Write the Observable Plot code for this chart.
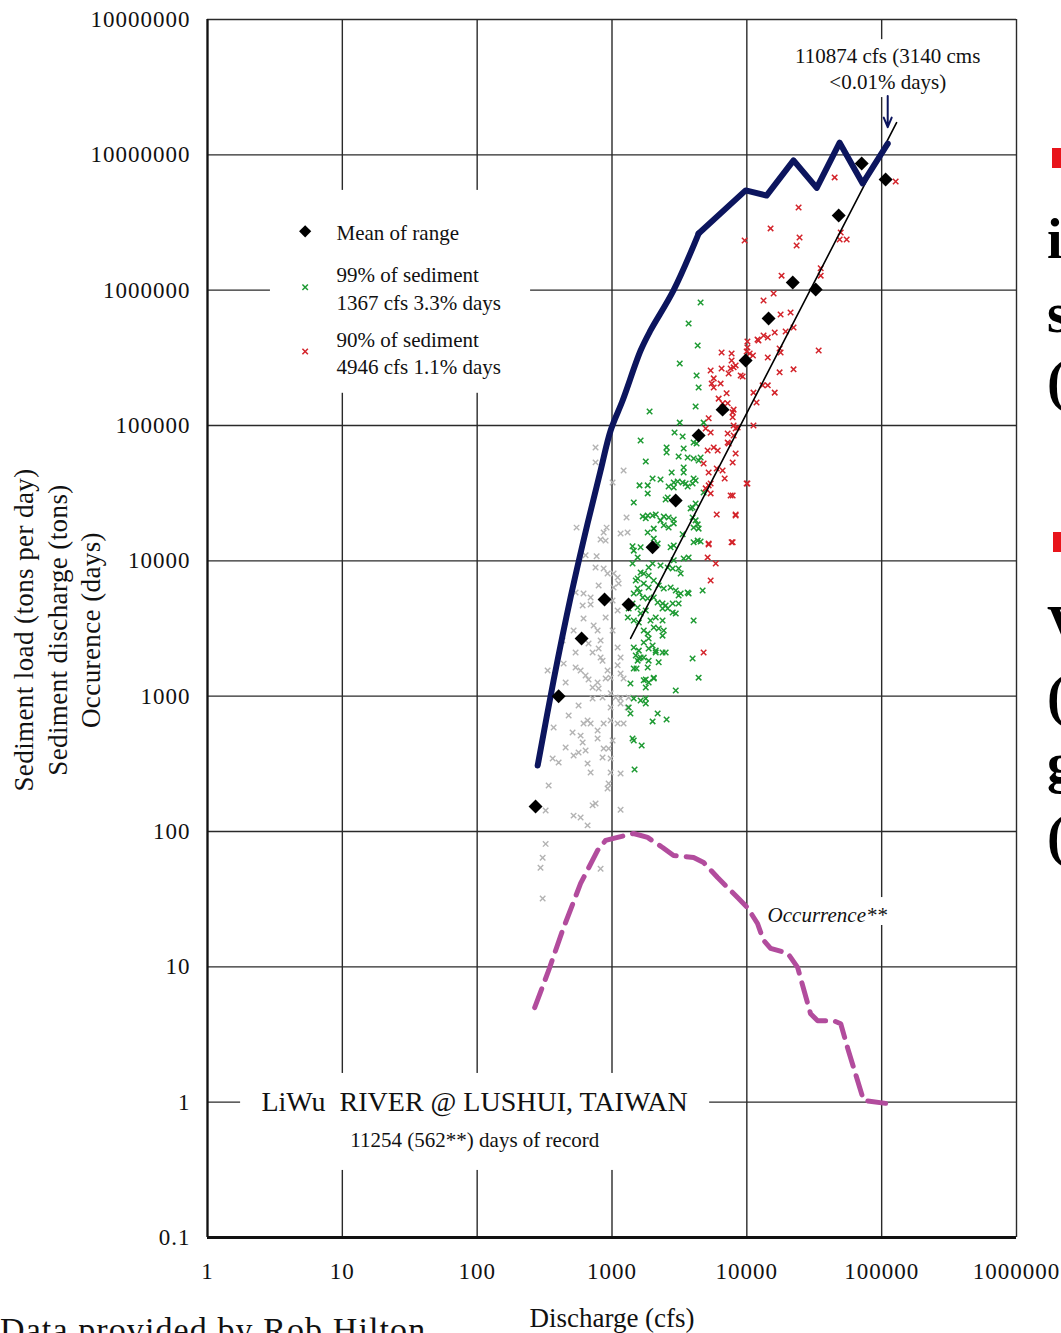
<!DOCTYPE html>
<html><head><meta charset="utf-8">
<script src="https://cdn.jsdelivr.net/npm/d3@7"></script>
<script src="https://cdn.jsdelivr.net/npm/@observablehq/plot@0.6"></script>
<style>
html,body{margin:0;padding:0;background:#fff;}
#wrap{position:relative;width:1061px;height:1333px;overflow:hidden;font-family:"Liberation Serif","Times New Roman",serif;color:#111;}
#chart svg{display:block;}
.side{position:absolute;left:1047px;font-weight:bold;font-size:56px;line-height:56px;color:#000;white-space:pre;}
.bullet{position:absolute;width:20px;height:20px;background:#e8141b;}
#credit{position:absolute;left:0;top:1313px;font-size:34px;line-height:34px;letter-spacing:1.1px;white-space:nowrap;}
#ylab{position:absolute;left:58px;top:630px;transform:translate(-50%,-50%) rotate(-90deg);font-size:27px;line-height:33.5px;letter-spacing:0.4px;text-align:center;white-space:pre;}
g[aria-label="y-axis tick label"] text, g[aria-label="x-axis tick label"] text{letter-spacing:1px;}
</style></head>
<body>
<div id="wrap">
  <div id="chart"></div>
  <div id="ylab"></div>
  <div class="bullet" style="left:1052px;top:148px"></div>
  <div class="side" style="top:211px">i</div>
  <div class="side" style="top:285px">s</div>
  <div class="side" style="top:353px">(</div>
  <div class="bullet" style="left:1053px;top:532px"></div>
  <div class="side" style="top:598px">V</div>
  <div class="side" style="top:668px">(</div>
  <div class="side" style="top:735px">g</div>
  <div class="side" style="top:808px">(</div>
  <div id="credit">Data provided by Rob Hilton</div>
</div>
<script>
// ---------- axis ticks ----------
const xTicks = [1, 10, 100, 1000, 10000, 100000, 1000000];
const xTickLabels = ["1", "10", "100", "1000", "10000", "100000", "1000000"];
const yTicks = [0.1, 1, 10, 100, 1000, 10000, 100000, 1000000, 10000000, 100000000];
const yTickLabels = ["0.1", "1", "10", "100", "1000", "10000", "100000", "1000000", "10000000", "10000000"];

// ---------- series ----------
// Mean of range (discharge cfs, sediment load tons/day)
const meanOfRange = [
  [271, 153], [402, 1000], [595, 2670], [881, 5180], [1327, 4760], [2000, 12600],
  [2966, 27900], [4390, 84400], [6610, 131000], [9800, 302000], [14500, 618000],
  [21900, 1140000], [32400, 1010000], [48000, 3560000], [71100, 8630000], [107000, 6580000]
];
// Sediment discharge curve (cumulative, tons)
const sedimentDischarge = [
  [281, 307], [369, 1310], [493, 5360], [659, 18900], [823, 46500], [977, 91900], [1199, 153000],
  [1630, 358000], [1930, 504000], [2865, 1000000], [4390, 2620000], [9800, 5460000],
  [14000, 5000000], [22200, 9100000], [33000, 5700000], [48800, 12300000], [72300, 6150000],
  [110900, 12100000]
];
// Rating fit line
const fitLine = [[1374, 2670], [129000, 17300000]];
// Occurrence (days)
const occurrence = [
  [267, 5.0], [339, 9.4], [430, 18.6], [585, 41.3], [782, 72.5], [897, 85.9], [1100, 90.4],
  [1446, 96.7], [1836, 90.4], [2373, 76.2], [2862, 66.5], [4030, 64.3], [4780, 59.0],
  [6070, 45.7], [8540, 32.5], [10100, 27.4], [12000, 20.9], [13300, 15.7], [15000, 13.7],
  [20100, 12.6], [23800, 9.9], [29700, 4.5], [33500, 4.0], [44000, 4.0], [49700, 3.8],
  [56000, 2.5], [73500, 1.03], [107000, 0.98]
];
// Daily values below the 99% threshold
const grayPoints = [
  [755, 68900], [755, 53400], [1219, 46500], [1010, 37900], [1282, 20900], [912, 17600], [867, 16200],
  [823, 14400], [897, 14100], [1158, 15900], [1305, 16200], [546, 17600], [769, 10800], [637, 11000],
  [755, 8930], [867, 8780], [927, 8060], [1028, 8060], [1101, 7540], [796, 6580], [694, 5360],
  [615, 5740], [537, 5840], [606, 4680], [694, 4760], [615, 3750], [897, 3810], [1101, 4300],
  [1028, 6360], [1120, 6810], [731, 3330], [782, 3060], [823, 2580], [796, 2250], [519, 3060],
  [430, 2580], [537, 2100], [438, 1740], [670, 2450], [718, 2100], [823, 1930], [851, 1830],
  [927, 1550], [977, 1370], [897, 1350], [1101, 2290], [1158, 1930], [1101, 1690], [1158, 1470],
  [1219, 1350], [537, 1630], [585, 1550], [637, 1420], [670, 1330], [718, 1160], [796, 1140],
  [782, 1260], [333, 1550], [453, 1260], [718, 961], [851, 978], [977, 1050], [1064, 978],
  [1158, 961], [1327, 978], [565, 853], [477, 719], [694, 628], [615, 628], [659, 661], [867, 628],
  [977, 825], [1101, 628], [1219, 628], [1158, 883], [1305, 825], [369, 587], [510, 539], [585, 511],
  [606, 455], [565, 384], [637, 397], [782, 557], [782, 486], [867, 411], [944, 411], [453, 418],
  [363, 346], [402, 324], [519, 365], [659, 318], [851, 352], [694, 273], [977, 346], [1158, 268],
  [977, 273], [944, 226], [927, 208], [339, 219], [755, 161], [718, 156], [519, 131], [585, 127],
  [659, 111], [1158, 145], [322, 143], [322, 81], [306, 64], [295, 54], [823, 53], [306, 32],
  [1010, 5090], [1010, 3060], [977, 661], [1010, 470]
];
// 99% of sediment (1367 cfs, 3.3% days)
const green99Points = [
  [4540, 811000], [3700, 567000], [4320, 390000], [3180, 287000], [4240, 234000], [4390, 191000],
  [4170, 138000], [1900, 127000], [3180, 105000], [4780, 105000], [2910, 88700], [3340, 82900],
  [4030, 74900], [4240, 73600], [1630, 77500], [2540, 68900], [2540, 63200], [3400, 67700],
  [1780, 54200], [3120, 59000], [3640, 58000], [4030, 57100], [4390, 55100], [4540, 58000],
  [3400, 49000], [3400, 45000], [2770, 45000], [2000, 40600], [2290, 39900], [1840, 36100],
  [1600, 36100], [2870, 37900], [3070, 38600], [3340, 37900], [3520, 37300], [3960, 37300],
  [2630, 35400], [2870, 34800], [3640, 35400], [1840, 31500], [4780, 32000], [4170, 39200],
  [4030, 40600], [2590, 29400], [2500, 28400], [1450, 27000], [4170, 26500], [3960, 24800],
  [3830, 24400], [1690, 21300], [1840, 21600], [2000, 21600], [2110, 22000], [1780, 20600],
  [2420, 21300], [2630, 20900], [2870, 20200], [2290, 19900], [2420, 18300], [2630, 17600],
  [2870, 18900], [4170, 19900], [4320, 18600], [4390, 17300], [3960, 20900], [4030, 17600],
  [2040, 17300], [1840, 16200], [3340, 15700], [2040, 14600], [2180, 13400], [4320, 14100],
  [4540, 13900], [4030, 13700], [1420, 12800], [1450, 11900], [1630, 12600], [2720, 12600],
  [2870, 13000], [1550, 10600], [2870, 10100], [1420, 9550], [1630, 8200], [1720, 8060],
  [1870, 7800], [1550, 7410], [1500, 7160], [1720, 6810], [1870, 8930], [2000, 9550], [2290, 9240],
  [2590, 8930], [2820, 8780], [3120, 8780], [3230, 8060], [3400, 10400], [3700, 10600],
  [2040, 7160], [2220, 6580], [2420, 6250], [2720, 6360], [2970, 6040], [3230, 5740], [3120, 5540],
  [3700, 5740], [1550, 6250], [1600, 5840], [1450, 5740], [1690, 5360], [1840, 5270], [1870, 6360],
  [2040, 5360], [2180, 4920], [2370, 4840], [2500, 4680], [2820, 4840], [3120, 4840], [2370, 4440],
  [2590, 4440], [2820, 4150], [2970, 4080], [1420, 4840], [1330, 4440], [1550, 4520], [1630, 4080],
  [1780, 4300], [1310, 3810], [1450, 3620], [1580, 3500], [1930, 3620], [2110, 3810], [2370, 3620],
  [2040, 3220], [2220, 3160], [2420, 3060], [2370, 2800], [1720, 3060], [1840, 2900], [1870, 2670],
  [1720, 2490], [1450, 2290], [1580, 2170], [1500, 2000], [1630, 1930], [1550, 1830], [1870, 2250],
  [2000, 2370], [2110, 2170], [2220, 1780], [2370, 2100], [1840, 1630], [2040, 1370], [1720, 1310],
  [1870, 1260], [1450, 1600], [2970, 1100], [4390, 1370], [3960, 1900], [4030, 3620], [4700, 6040],
  [3640, 5840], [1580, 1900], [1720, 1930], [1870, 1830], [2500, 2100], [2110, 2100], [1520, 1600],
  [1370, 1240], [1780, 1330], [2040, 1350], [1780, 1160], [1450, 961], [1630, 929], [1780, 961],
  [1780, 883], [1370, 745], [1330, 825], [2180, 745], [2000, 651], [2540, 673], [1420, 486],
  [1450, 470], [1660, 432], [1470, 287]
];
// 90% of sediment (4946 cfs, 1.1% days)
const red90Points = [
  [35300, 1450000], [35300, 1280000], [18100, 1280000], [15800, 946000], [13300, 839000],
  [21100, 684000], [17800, 661000], [22200, 530000], [19400, 495000], [16100, 487000],
  [13300, 462000], [12200, 425000], [12000, 432000], [14300, 447000], [10100, 418000],
  [10100, 377000], [9970, 352000], [11100, 329000], [10500, 340000], [17500, 371000],
  [17800, 346000], [34100, 358000], [6500, 346000], [7710, 340000], [7710, 302000], [8260, 278000],
  [7980, 269000], [7580, 264000], [5390, 255000], [6500, 264000], [7330, 242000], [9000, 234000],
  [9310, 230000], [14300, 318000], [17500, 247000], [22200, 260000], [5680, 223000], [5490, 204000],
  [6390, 204000], [5680, 191000], [13100, 198000], [14300, 198000], [11200, 175000], [16100, 175000],
  [7080, 173000], [11800, 148000], [6180, 158000], [6610, 146000], [7980, 131000], [7210, 146000],
  [7850, 125000], [7850, 115000], [5210, 113000], [4950, 95100], [5390, 88700], [7980, 100000],
  [8260, 95100], [8550, 96600], [11200, 100000], [7980, 84400], [7210, 87300], [7210, 74900],
  [7330, 73600], [5680, 68900], [6080, 65400], [5120, 65400], [8260, 62100], [7850, 53300],
  [4780, 52400], [5210, 45000], [5980, 48100], [6610, 46500], [6850, 40600], [5390, 37300],
  [5210, 36100], [4950, 34300], [5390, 31500], [10100, 37300], [7580, 30400], [7850, 30400],
  [5980, 22000], [8260, 22000], [5210, 13400], [7710, 13700], [44800, 6810000], [24200, 4080000],
  [15000, 2860000], [24600, 2450000], [23400, 2140000], [49700, 2670000], [48800, 2370000],
  [55000, 2370000], [127000, 6350000], [9630, 2330000], [5390, 7160], [4780, 2100], [8260, 21600],
  [7850, 13700], [5120, 10600], [5880, 9550], [9970, 37300], [5210, 13200]
];

// ---------- legend & annotation text ----------
const legendLabels = ["Mean of range", "99% of sediment\n1367 cfs 3.3% days", "90% of sediment\n4946 cfs 1.1% days"];
const peakNote = "110874 cfs (3140 cms\n<0.01% days)";
const peakDischarge = 110874;
const stationTitle = "LiWu\u00a0 RIVER @ LUSHUI, TAIWAN";
const recordNote = "11254 (562**) days of record";
const occurrenceLabel = "Occurrence**";
const xLabel = "Discharge (cfs)";
const yLabel = "Sediment load (tons per day)\nSediment discharge (tons)\nOccurence (days)";
document.getElementById("ylab").textContent = yLabel;

// placement of annotations (data units)
const legendSymX = 5.3, legendTextX = 9.06;
const legendY = [2.72e6, 1.05e6, 3.52e5];
const labelBoxes = [
  {x1: 2.93, x2: 249, y1: 1.73e5, y2: 5.46e6},       // legend
  {x1: 1.76, x2: 5300, y1: 0.313, y2: 1.63},         // station title
  {x1: 19400, x2: 644000, y1: 2.65e7, y2: 7.1e7},    // peak note
  {x1: 13800, x2: 127000, y1: 20.2, y2: 32.5}        // occurrence label
];

const xLabelMap = new Map(xTicks.map((d, i) => [d, xTickLabels[i]]));
const yLabelMap = new Map(yTicks.map((d, i) => [d, yTickLabels[i]]));
const P = a => a.map(d => ({x: d[0], y: d[1]}));
const bend = 4390; // where the sediment-discharge curve turns from smooth to jagged

const navy = "#0c155e", green = "#1d9a32", red = "#d3232a", gray = "#b3b3b3", magenta = "#b24c9d";
const serif = "'Liberation Serif','Times New Roman',serif";

const chart = Plot.plot({
  width: 1061, height: 1333,
  marginTop: 19, marginBottom: 96, marginLeft: 207, marginRight: 45,
  x: {type: "log", domain: [1, 1000000]},
  y: {type: "log", domain: [0.1, 100000000]},
  style: {fontFamily: serif, fontSize: "20px", background: "white", overflow: "visible", color: "#111"},
  marks: [
    Plot.ruleX(xTicks, {stroke: "#2a2a2a", strokeWidth: 1.4}),
    Plot.ruleY(yTicks, {stroke: "#2a2a2a", strokeWidth: 1.4}),
    Plot.rect(labelBoxes, {x1: "x1", x2: "x2", y1: "y1", y2: "y2", fill: "white"}),
    Plot.ruleX([1], {stroke: "#111", strokeWidth: 2.2}),
    Plot.ruleY([0.1], {stroke: "#111", strokeWidth: 3.2}),
    Plot.axisX(xTicks, {tickSize: 0, tickPadding: 25, fontSize: 23, tickFormat: d => xLabelMap.get(d), label: null}),
    Plot.axisY(yTicks, {tickSize: 0, tickPadding: 17, fontSize: 23, tickFormat: d => yLabelMap.get(d), label: null}),
    // scatter
    Plot.dot(P(grayPoints), {x: "x", y: "y", symbol: "times", r: 2.6, stroke: gray, strokeWidth: 1.4}),
    Plot.dot(P(green99Points), {x: "x", y: "y", symbol: "times", r: 2.6, stroke: green, strokeWidth: 1.5}),
    Plot.dot(P(red90Points), {x: "x", y: "y", symbol: "times", r: 2.6, stroke: red, strokeWidth: 1.5}),
    // lines
    Plot.line(P(fitLine), {x: "x", y: "y", stroke: "#000", strokeWidth: 1.6}),
    Plot.line(P(sedimentDischarge.filter(d => d[0] <= bend)), {x: "x", y: "y", curve: "catmull-rom", stroke: navy, strokeWidth: 6, strokeLinejoin: "round"}),
    Plot.line(P(sedimentDischarge.filter(d => d[0] >= bend)), {x: "x", y: "y", stroke: navy, strokeWidth: 6, strokeLinejoin: "round"}),
    Plot.line(P(occurrence), {x: "x", y: "y", stroke: magenta, strokeWidth: 5, strokeDasharray: "20,10", strokeLinejoin: "round"}),
    Plot.dot(P(meanOfRange), {x: "x", y: "y", symbol: "diamond2", r: 6.3, fill: "#000"}),
    // legend
    Plot.dot([legendY[0]], {x: () => legendSymX, y: d => d, symbol: "diamond2", r: 5.5, fill: "#000"}),
    Plot.dot([legendY[1]], {x: () => legendSymX, y: d => d, symbol: "times", r: 2.6, stroke: green, strokeWidth: 1.5}),
    Plot.dot([legendY[2]], {x: () => legendSymX, y: d => d, symbol: "times", r: 2.6, stroke: red, strokeWidth: 1.5}),
    Plot.text(legendLabels, {x: () => legendTextX, y: (d, i) => legendY[i], text: d => d, textAnchor: "start", lineAnchor: "middle", lineHeight: 1.3, fontSize: 21, fill: "#111", style: "letter-spacing:1.3px"}),
    // annotations
    Plot.text([peakNote], {x: () => peakDischarge, y: () => 4.41e7, text: d => d, lineAnchor: "middle", lineHeight: 1.25, fontSize: 21, fill: "#111", style: "letter-spacing:0.5px"}),
    Plot.arrow([peakDischarge], {x1: d => d, x2: d => d, y1: () => 2.72e7, y2: () => 1.6e7, stroke: navy, strokeWidth: 2, headLength: 10, headAngle: 45}),
    Plot.text([stationTitle], {x: () => 95.6, y: () => 1, text: d => d, lineAnchor: "middle", fontSize: 28, fill: "#111", style: "letter-spacing:1.6px"}),
    Plot.text([recordNote], {x: () => 96, y: () => 0.52, text: d => d, lineAnchor: "middle", fontSize: 21, fill: "#111", style: "letter-spacing:1.3px"}),
    Plot.text([occurrenceLabel], {x: () => 14260, y: () => 23.9, text: d => d, textAnchor: "start", lineAnchor: "middle", fontSize: 21, fontStyle: "italic", fill: "#111", style: "letter-spacing:1.2px"}),
    // x axis title
    Plot.text([xLabel], {frameAnchor: "bottom", dy: 81, text: d => d, lineAnchor: "middle", fontSize: 27, fill: "#111", style: "letter-spacing:1.4px"})
  ]
});
document.getElementById("chart").appendChild(chart);
</script>
</body></html>
